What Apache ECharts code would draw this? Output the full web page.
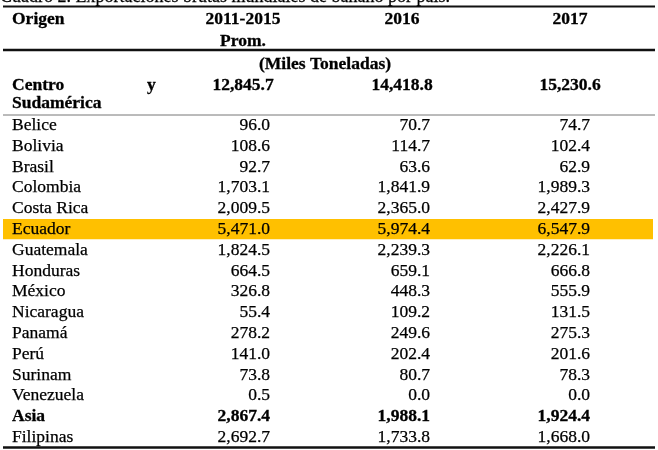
<!DOCTYPE html>
<html>
<head>
<meta charset="utf-8">
<script src="https://cdn.jsdelivr.net/npm/echarts@6/dist/echarts.min.js"></script>
<style>
html,body{margin:0;padding:0;background:#fff;}
#c{width:658px;height:450px;}
</style>
</head>
<body>
<div id="c"></div>
<script>
// ---- data ----
const title = 'Cuadro 2. Exportaciones brutas mundiales de banano por país.';
const headers = ['Origen', '2011-2015\nProm.', '2016', '2017'];
const unitLabel = '(Miles Toneladas)';
const regionName = 'Centro y Sudamérica';
const regionValues = [12845.7, 14418.8, 15230.6];
const countries = ['Belice','Bolivia','Brasil','Colombia','Costa Rica','Ecuador','Guatemala','Honduras','México','Nicaragua','Panamá','Perú','Surinam','Venezuela'];
const avg2011_2015 = [96.0,108.6,92.7,1703.1,2009.5,5471.0,1824.5,664.5,326.8,55.4,278.2,141.0,73.8,0.5];
const val2016 = [70.7,114.7,63.6,1841.9,2365.0,5974.4,2239.3,659.1,448.3,109.2,249.6,202.4,80.7,0.0];
const val2017 = [74.7,102.4,62.9,1989.3,2427.9,6547.9,2226.1,666.8,555.9,131.5,275.3,201.6,78.3,0.0];
const asiaName = 'Asia';
const asiaValues = [2867.4, 1988.1, 1924.4];
const asiaCountries = ['Filipinas'];
const asiaAvg = [2692.7];
const asia2016 = [1733.8];
const asia2017 = [1668.0];
const highlighted = 'Ecuador';

// ---- layout ----
const FONT = '"Liberation Serif", "Times New Roman", serif';
const FS = 17.5;
const X0 = 3, X1 = 655;
const colRight = [270, 430, 590];
const colCenter = [243, 402, 570];
const firstRowY = 125.5, rowH = 20.8;

function fmt(v){
  const s = v.toFixed(1);
  const [i, d] = s.split('.');
  return i.replace(/\B(?=(\d{3})+(?!\d))/g, ',') + '.' + d;
}
function txt(str, x, y, opts){
  opts = opts || {};
  return {
    type: 'text', x: x, y: y, silent: true,
    style: {
      text: str, fill: '#000', font: (opts.bold ? 'bold ' : '') + (opts.size || FS) + 'px ' + FONT,
      stroke: '#000', lineWidth: opts.bold ? 0.3 : 0.25,
      textAlign: opts.align || 'left', textVerticalAlign: opts.valign || 'middle'
    }, z: 10
  };
}
function hline(y, w, color){
  return { type: 'line', silent: true, shape: {x1: X0, y1: y, x2: X1, y2: y},
           style: {stroke: color || '#111', lineWidth: w}, z: 5 };
}

const g = [];
// title (partially cut at top)
g.push(txt(title, 0, 6, {valign: 'bottom', size: 18}));
g.push(hline(6.5, 2.2));
// headers
g.push(txt(headers[0], 12, 19, {bold: true}));
const h1 = headers[1].split('\n');
g.push(txt(h1[0], colCenter[0], 19, {bold: true, align: 'center'}));
g.push(txt(h1[1], colCenter[0], 41, {bold: true, align: 'center'}));
g.push(txt(headers[2], colCenter[1], 19, {bold: true, align: 'center'}));
g.push(txt(headers[3], colCenter[2], 19, {bold: true, align: 'center'}));
g.push(hline(50, 2.6));
g.push(txt(unitLabel, 325, 64, {bold: true, align: 'center'}));
// region row (justified two-line label)
const rw = regionName.split(' ');
g.push(txt(rw[0], 12, 85, {bold: true}));
g.push(txt(rw[1], 147, 85, {bold: true}));
g.push(txt(rw[2], 12, 103, {bold: true}));
regionValues.forEach((v, i) => g.push(txt(fmt(v), colCenter[i], 85, {bold: true, align: 'center'})));
g.push(hline(115, 1, '#777'));

// country rows
const rows = [];
countries.forEach((c, i) => rows.push({name: c, vals: [avg2011_2015[i], val2016[i], val2017[i]], bold: false}));
rows.push({name: asiaName, vals: asiaValues, bold: true});
asiaCountries.forEach((c, i) => rows.push({name: c, vals: [asiaAvg[i], asia2016[i], asia2017[i]], bold: false}));

rows.forEach((r, k) => {
  const y = firstRowY + k * rowH;
  if (r.name === highlighted) {
    g.push({type: 'rect', silent: true, shape: {x: X0, y: y - 10.5, width: X1 - X0 - 2, height: 20.3},
            style: {fill: '#FFC000'}, z: 1});
  }
  g.push(txt(r.name, 12, y, {bold: r.bold}));
  r.vals.forEach((v, i) => g.push(txt(fmt(v), colRight[i], y, {bold: r.bold, align: 'right'})));
});
g.push(hline(447.5, 2.4));

const chart = echarts.init(document.getElementById('c'), null, {renderer: 'canvas'});
chart.setOption({ animation: false, backgroundColor: '#fff', graphic: g });
</script>
</body>
</html>
